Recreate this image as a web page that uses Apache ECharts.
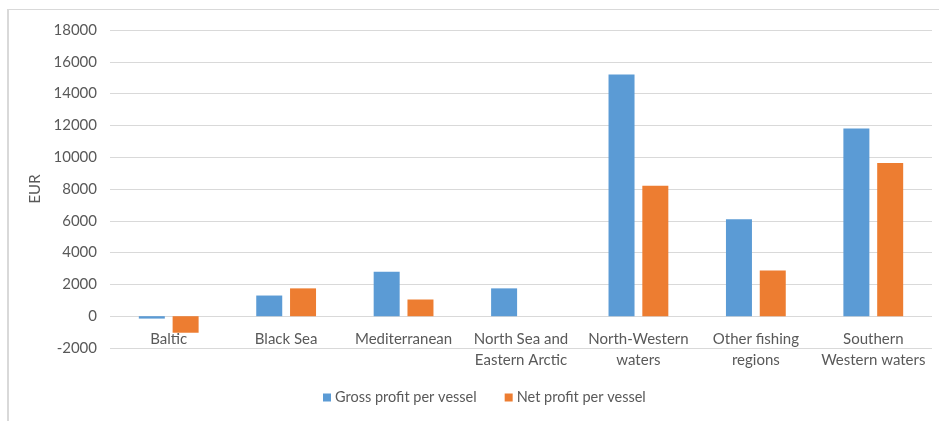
<!DOCTYPE html>
<html>
<head>
<meta charset="utf-8">
<script src="https://cdn.jsdelivr.net/npm/echarts@6/dist/echarts.min.js"></script>
<style>
  html, body { margin: 0; padding: 0; background: #fff; }
  #frame { position: absolute; left: 7px; top: 9px; width: 940px; height: 420px;
           border-top: 1px solid #d9d9d9; border-left: 2px solid #d9d9d9; }
  #chart { position: absolute; left: 0; top: 0; width: 939px; height: 421px; }
</style>
</head>
<body>
<div id="frame"></div>
<div id="chart"></div>
<script>
// Fishing regions on the category axis
const regions = [
  'Baltic',
  'Black Sea',
  'Mediterranean',
  'North Sea and\nEastern Arctic',
  'North-Western\nwaters',
  'Other fishing\nregions',
  'Southern\nWestern waters'
];

// Profit per vessel, EUR
const grossProfit = [-150, 1300, 2800, 1750, 15200, 6100, 11800];
const netProfit   = [-1040, 1750, 1050, 0, 8200, 2870, 9640];

const seriesNames = ['Gross profit per vessel', 'Net profit per vessel'];
const yMin = -2000, yMax = 18000, yStep = 2000;

const textColor = '#595959';
const font = 'Lato, "Liberation Sans", sans-serif';

const gridTop = 30, gridBottom = 73, chartHeight = 421;
// Pixel distance from the bottom of the grid up to the zero line,
// so the category labels sit just under zero
const plotHeight = chartHeight - gridTop - gridBottom;
const zeroLift = plotHeight * (0 - yMin) / (yMax - yMin);

const chart = echarts.init(document.getElementById('chart'));
chart.setOption({
  animation: false,
  textStyle: { fontFamily: font },
  grid: { left: 110, right: 7, top: gridTop, bottom: gridBottom },
  legend: {
    bottom: 11,
    left: 318,
    itemWidth: 8,
    itemHeight: 8,
    itemGap: 28,
    icon: 'rect',
    textStyle: { color: textColor, fontSize: 14.5, fontFamily: font, padding: [0, 0, 0, -1] },
    data: seriesNames
  },
  xAxis: {
    type: 'category',
    data: regions,
    offset: -zeroLift,
    axisLine: { show: false, onZero: false },
    axisTick: { show: false },
    axisLabel: { color: textColor, fontSize: 15, fontFamily: font, margin: 12, lineHeight: 21, interval: 0 }
  },
  yAxis: {
    type: 'value',
    min: yMin,
    max: yMax,
    interval: yStep,
    name: 'EUR',
    nameLocation: 'middle',
    nameGap: 61,
    nameTextStyle: { color: textColor, fontSize: 15, fontFamily: font },
    axisLine: { show: false },
    axisTick: { show: false },
    axisLabel: { color: textColor, fontSize: 15, fontFamily: font, margin: 13,
                 formatter: v => String(v) },
    splitLine: { lineStyle: { color: '#d9d9d9', width: 1 } }
  },
  series: [
    {
      name: seriesNames[0],
      type: 'bar',
      data: grossProfit,
      barWidth: 26,
      barGap: '30%',
      itemStyle: { color: '#5b9bd5' }
    },
    {
      name: seriesNames[1],
      type: 'bar',
      data: netProfit,
      barWidth: 26,
      itemStyle: { color: '#ed7d31' }
    }
  ]
});
</script>
</body>
</html>
